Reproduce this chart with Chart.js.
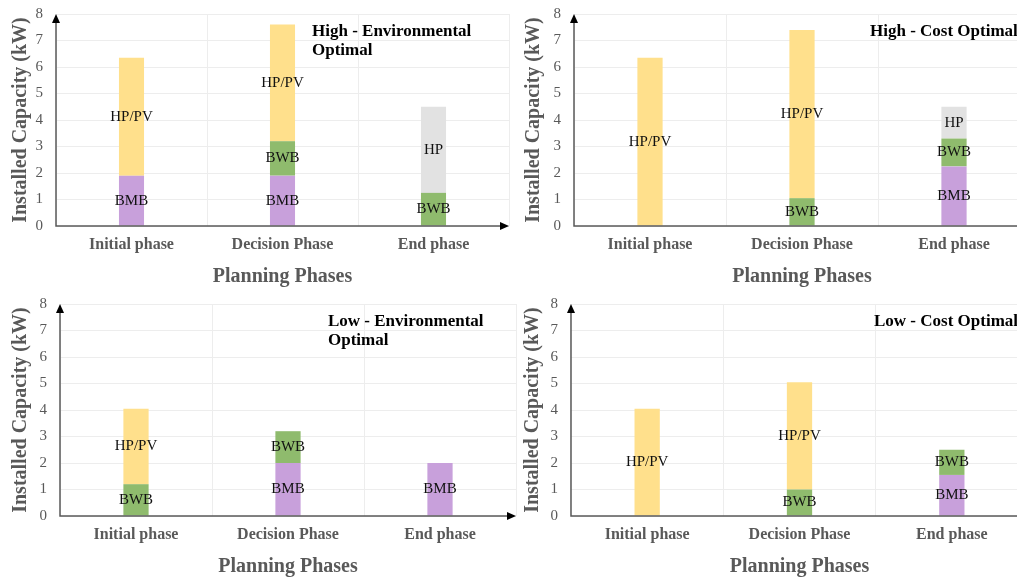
<!DOCTYPE html>
<html>
<head>
<meta charset="utf-8">
<script src="https://cdn.jsdelivr.net/npm/chart.js@4.4.1/dist/chart.umd.min.js"></script>
<style>
html, body { margin: 0; padding: 0; width: 1017px; height: 577px; overflow: hidden; background: #fff; }
canvas { position: absolute; }
</style>
</head>
<body>
<canvas id="c1"></canvas>
<canvas id="c2"></canvas>
<canvas id="c3"></canvas>
<canvas id="c4"></canvas>
<script>
const phases = ['Initial phase', 'Decision Phase', 'End phase'];
const techNames = ['BMB', 'BWB', 'HP/PV', 'HP'];
const techColors = ['#c8a0db', '#8fbb6d', '#ffe08c', '#e2e2e2'];

// High - Environmental Optimal
const highEnvBMB = [1.9, 1.9, 0];
const highEnvBWB = [0, 1.3, 1.25];
const highEnvHPPV = [4.45, 4.4, 0];
const highEnvHP = [0, 0, 3.25];

// High - Cost Optimal
const highCostBMB = [0, 0, 2.25];
const highCostBWB = [0, 1.05, 1.05];
const highCostHPPV = [6.35, 6.35, 0];
const highCostHP = [0, 0, 1.2];

// Low - Environmental Optimal
const lowEnvBMB = [0, 2.0, 2.0];
const lowEnvBWB = [1.2, 1.2, 0];
const lowEnvHPPV = [2.85, 0, 0];
const lowEnvHP = [0, 0, 0];

// Low - Cost Optimal
const lowCostBMB = [0, 0, 1.55];
const lowCostBWB = [0, 1.0, 0.95];
const lowCostHPPV = [4.05, 4.05, 0];
const lowCostHP = [0, 0, 0];

const serif = "'Liberation Serif', 'Times New Roman', serif";
const grey = '#595959';

const barLabels = {
    id: 'barLabels',
    afterDatasetsDraw(chart) {
        const ctx = chart.ctx;
        ctx.save();
        ctx.font = '15px ' + serif;
        ctx.fillStyle = '#111';
        ctx.textAlign = 'center';
        ctx.textBaseline = 'middle';
        chart.data.datasets.forEach((ds, i) => {
            chart.getDatasetMeta(i).data.forEach((bar, j) => {
                if (!ds.data[j]) return;
                ctx.fillText(ds.label, bar.x, (bar.y + bar.base) / 2);
            });
        });
        ctx.restore();
    }
};

const axisArrows = {
    id: 'axisArrows',
    afterDatasetsDraw(chart) {
        const {ctx, chartArea: a} = chart;
        ctx.save();
        ctx.strokeStyle = grey;
        ctx.lineWidth = 1.5;
        ctx.beginPath();
        ctx.moveTo(a.left, a.top + 4);
        ctx.lineTo(a.left, a.bottom);
        ctx.lineTo(a.right - 4, a.bottom);
        ctx.stroke();
        ctx.fillStyle = '#000';
        ctx.beginPath();
        ctx.moveTo(a.left, a.top);
        ctx.lineTo(a.left - 4, a.top + 9);
        ctx.lineTo(a.left + 4, a.top + 9);
        ctx.closePath();
        ctx.fill();
        ctx.beginPath();
        ctx.moveTo(a.right, a.bottom);
        ctx.lineTo(a.right - 9, a.bottom - 4);
        ctx.lineTo(a.right - 9, a.bottom + 4);
        ctx.closePath();
        ctx.fill();
        ctx.restore();
    }
};

const panelTitle = {
    id: 'panelTitle',
    afterDraw(chart, args, opts) {
        const {ctx, chartArea: a} = chart;
        ctx.save();
        ctx.font = 'bold 17px ' + serif;
        ctx.fillStyle = '#000';
        ctx.textAlign = 'left';
        ctx.textBaseline = 'middle';
        opts.lines.forEach((t, k) => ctx.fillText(t, a.left + opts.dx, a.top + opts.dy + k * 19));
        ctx.restore();
    }
};

function makePanel(id, pos, series, titleLines) {
    const canvas = document.getElementById(id);
    canvas.width = pos.axisW + pos.plotW + 7;
    canvas.height = 290;
    canvas.style.left = pos.left + 'px';
    canvas.style.top = pos.top + 'px';
    new Chart(canvas, {
        type: 'bar',
        data: {
            labels: phases,
            datasets: series.map((vals, i) => ({
                label: techNames[i],
                data: vals,
                backgroundColor: techColors[i],
                categoryPercentage: 1,
                barPercentage: 0.166
            }))
        },
        options: {
            responsive: false,
            animation: false,
            layout: { padding: { top: 14, right: 7, left: 0, bottom: 0 } },
            plugins: {
                legend: { display: false },
                tooltip: { enabled: false },
                panelTitle: { lines: titleLines, dx: pos.tdx, dy: 18 }
            },
            scales: {
                x: {
                    stacked: true,
                    grid: { color: '#ededed', drawTicks: false },
                    border: { display: false },
                    ticks: { color: grey, padding: 9, font: { family: serif, size: 16, weight: 'bold' } },
                    title: { display: true, text: 'Planning Phases', color: grey, padding: { top: 0, bottom: 1 },
                             font: { family: serif, size: 20, weight: 'bold' } },
                    afterFit: s => { s.height = 64; s.paddingLeft = 0; s.paddingRight = 0; }
                },
                y: {
                    stacked: true,
                    min: 0,
                    max: 8,
                    ticks: { stepSize: 1, color: grey, padding: 13, font: { family: serif, size: 15 } },
                    grid: { color: '#ededed', drawTicks: false },
                    border: { display: false },
                    title: { display: true, text: 'Installed Capacity (kW)', color: grey, padding: { top: pos.ytp, bottom: 0 },
                             font: { family: serif, size: 20, weight: 'bold' } },
                    afterFit: s => { s.width = pos.axisW; s.paddingTop = 0; s.paddingBottom = 0; }
                }
            }
        },
        plugins: [barLabels, axisArrows, panelTitle]
    });
}

makePanel('c1', { left: 0, top: 0, axisW: 56, plotW: 453, ytp: 9, tdx: 256 },
    [highEnvBMB, highEnvBWB, highEnvHPPV, highEnvHP], ['High - Environmental', 'Optimal']);
makePanel('c2', { left: 514, top: 0, axisW: 60, plotW: 456, ytp: 8, tdx: 296 },
    [highCostBMB, highCostBWB, highCostHPPV, highCostHP], ['High - Cost Optimal']);
makePanel('c3', { left: 0, top: 290, axisW: 60, plotW: 456, ytp: 9, tdx: 268 },
    [lowEnvBMB, lowEnvBWB, lowEnvHPPV, lowEnvHP], ['Low - Environmental', 'Optimal']);
makePanel('c4', { left: 511, top: 290, axisW: 60, plotW: 457, ytp: 10, tdx: 303 },
    [lowCostBMB, lowCostBWB, lowCostHPPV, lowCostHP], ['Low - Cost Optimal']);
</script>
</body>
</html>
